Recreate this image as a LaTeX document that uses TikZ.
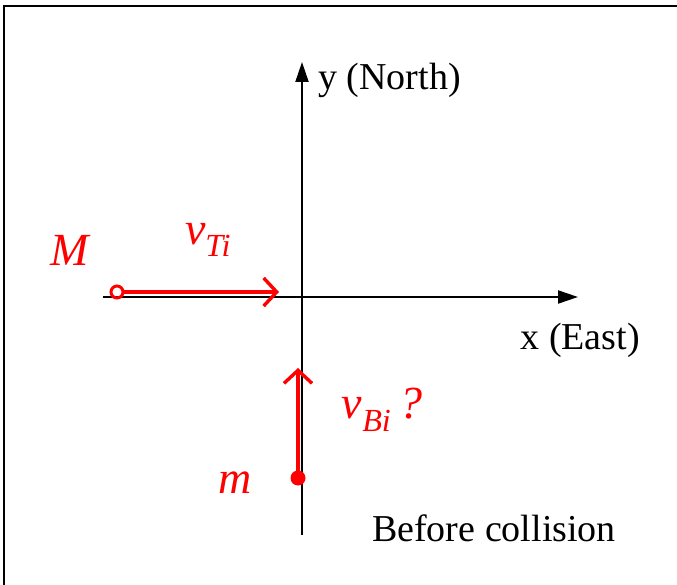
\documentclass[tikz,border=0pt]{standalone}
\usepackage{fontspec}
\setmainfont{Liberation Serif}
\usetikzlibrary{arrows.meta}

\tikzset{
  axis/.style={black,line width=2pt,-{Triangle[length=20pt,width=13pt]}},
  hand/.style={red,line width=3.4pt,line cap=round,-{Straight Barb[length=13pt,width=28pt]}},
  axislabel/.style={font=\fontsize{38}{44}\selectfont},
  handlabel/.style={red,font=\fontsize{46}{50}\selectfont\itshape}
}

\begin{document}
\begin{tikzpicture}[x=1pt,y=-1pt]
  \useasboundingbox (0,0) rectangle (677,585);
  % Frame (cut off right and bottom)
  \draw[black,line width=2pt] (4,600) -- (4,6) -- (700,6);

  % Axes
  \coordinate (xstart) at (103,297);
  \coordinate (xend) at (578,297);
  \coordinate (ystart) at (302,535);
  \coordinate (yend) at (302,62);
  \draw[axis] (xstart) -- (xend);
  \draw[axis] (ystart) -- (yend);

  \node[axislabel,anchor=west,inner sep=0pt] (ylab) at (318,80) {y (North)};
  \node[axislabel,anchor=east,inner sep=0pt] (xlab) at (640,340) {x (East)};
  \node[axislabel,inner sep=0pt] (before) at (494,528) {Before collision};

  % Truck mass M moving east
  \node[circle,draw=red,line width=3pt,inner sep=0pt,minimum size=12pt] (truck) at (117,292) {};
  \coordinate (truckend) at (279,292);
  \draw[hand] (truck.east) -- (truckend);
  \node[handlabel] (Mlab) at (70,250) {M};
  \node[handlabel] (vTi) at (208,240) {v\textsubscript{Ti}};

  % Ball mass m moving north
  \node[circle,fill=red,inner sep=0pt,minimum size=15pt] (ball) at (298,478) {};
  \coordinate (ballend) at (298,368);
  \draw[hand] (ball) -- (ballend);
  \node[handlabel] (mlab) at (235,483) {m};
  \node[handlabel] (vBi) at (382,410) {v\textsubscript{Bi}\,?};
\end{tikzpicture}
\end{document}
